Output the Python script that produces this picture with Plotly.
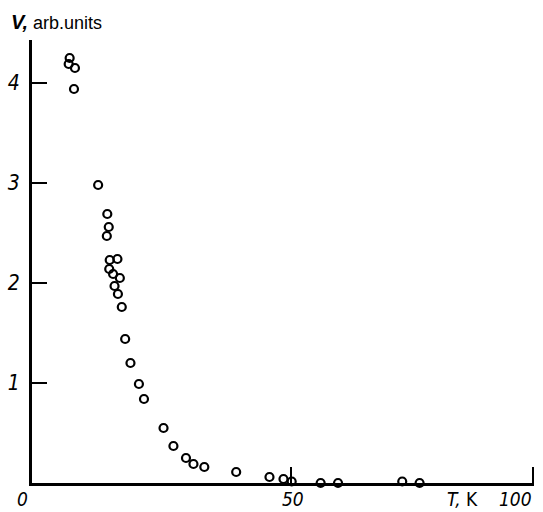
import plotly.graph_objects as go

# Data
T_K = [4.1, 3.9, 5.2, 5.0, 10.0, 11.9, 12.2, 11.8, 12.4, 14.0, 12.3, 13.1, 14.5,
       13.4, 14.1, 14.9, 15.6, 16.7, 18.45, 19.5, 23.55, 25.6, 28.2, 29.75, 32.0,
       38.6, 45.5, 48.4, 50.1, 56.1, 59.7, 73.0, 76.6]
V = [4.25, 4.19, 4.15, 3.94, 2.98, 2.69, 2.56, 2.47, 2.23, 2.24, 2.14, 2.09, 2.05,
     1.97, 1.89, 1.76, 1.44, 1.20, 0.99, 0.84, 0.55, 0.37, 0.25, 0.19, 0.16,
     0.11, 0.06, 0.04, 0.015, 0.0, 0.0, 0.015, 0.0]

y_ticks = [1, 2, 3, 4]
x_ticks = [50, 100]
x_tick_labels = ["50", "100"]

NARROW = "Liberation Sans Narrow, DejaVu Sans Condensed, sans-serif"
tick_font = dict(family=NARROW, size=21, color="black", style="italic")
xlab_font = dict(family=NARROW, size=19, color="black", style="italic")

fig = go.Figure()
fig.add_trace(go.Scatter(
    x=T_K, y=V, mode="markers", cliponaxis=False,
    marker=dict(symbol="circle-open", size=8, color="black", line=dict(width=2.2, color="black")),
    showlegend=False,
))

fig.update_xaxes(
    range=[-3.7, 100.3], showgrid=False, zeroline=False,
    showline=True, linewidth=3, linecolor="black",
    ticks="inside", ticklen=16, tickwidth=2, tickcolor="black",
    tickvals=x_ticks, showticklabels=False,
)
fig.update_yaxes(
    range=[0, 4.43], showgrid=False, zeroline=False,
    showline=True, linewidth=3, linecolor="black",
    ticks="inside", ticklen=15, tickwidth=2, tickcolor="black",
    tickvals=y_ticks, ticktext=[str(v) for v in y_ticks],
    tickfont=tick_font, ticklabelstandoff=5,
)

annotations = []
label_y_shift = -16  # label centres below the x axis
annotations.append(dict(x=0, xref="paper", y=0, yref="paper", text="0", showarrow=False,
                        xanchor="center", yanchor="middle", xshift=-10, yshift=label_y_shift,
                        borderpad=0, font=xlab_font))
for v, t in zip(x_ticks, x_tick_labels):
    annotations.append(dict(x=v, xref="x", y=0, yref="paper", text=t, showarrow=False,
                            xanchor="right" if v == 100 else "center", yanchor="middle",
                            xshift=0 if v == 100 else 2, yshift=label_y_shift,
                            borderpad=0, font=xlab_font))
annotations.append(dict(x=82.0, xref="x", y=0, yref="paper",
                        text="<i>T,</i> K", showarrow=False, xanchor="left", yanchor="middle",
                        yshift=label_y_shift, borderpad=0,
                        font=dict(family=NARROW, size=19, color="black")))
annotations.append(dict(x=-23 / 502, xref="paper", y=(483 - 22) / 443, yref="paper",
                        text="<b><i><span style='font-size:20px'>V,</span></i></b> arb.units",
                        showarrow=False, xanchor="left", yanchor="middle",
                        font=dict(family="Liberation Sans, Arial, sans-serif", size=18, color="black")))

fig.update_layout(
    width=543, height=512,
    margin=dict(l=32, r=9, t=40, b=29, autoexpand=False),
    paper_bgcolor="white", plot_bgcolor="white",
    annotations=annotations,
)

fig.write_html("out.html", config={"displayModeBar": False},
               post_script="document.body.style.margin='0';")
